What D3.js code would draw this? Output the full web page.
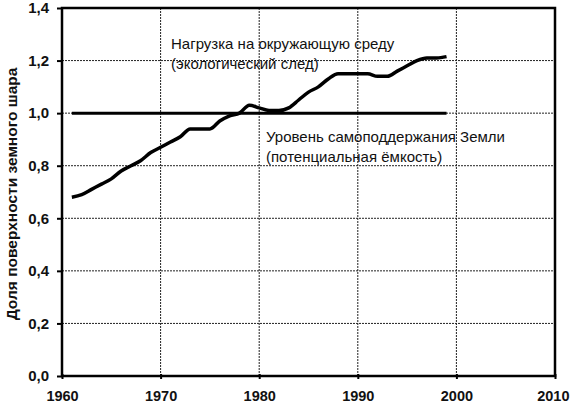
<!DOCTYPE html>
<html><head><meta charset="utf-8">
<script src="https://cdn.jsdelivr.net/npm/d3@7"></script>
<style>
body{margin:0;background:#fff;}
text{font-family:"Liberation Sans",Arial,Helvetica,sans-serif;}
</style>
</head><body>
<svg id="c" width="570" height="405"></svg>
<script>
const years = [1961,1962,1963,1964,1965,1966,1967,1968,1969,1970,1971,1972,1973,1974,1975,1976,1977,1978,1979,1980,1981,1982,1983,1984,1985,1986,1987,1988,1989,1990,1991,1992,1993,1994,1995,1996,1997,1998,1999];
const footprint = [0.68,0.69,0.71,0.73,0.75,0.78,0.80,0.82,0.85,0.87,0.89,0.91,0.94,0.94,0.94,0.97,0.99,1.00,1.03,1.02,1.01,1.01,1.02,1.05,1.08,1.10,1.13,1.15,1.15,1.15,1.15,1.14,1.14,1.16,1.18,1.20,1.21,1.21,1.215];
const capacityYears = [1961,1999];
const capacity = [1.0,1.0];
const xTicks = [1960,1970,1980,1990,2000,2010];
const yTicks = [0,0.2,0.4,0.6,0.8,1.0,1.2,1.4];
const yTitle = "Доля поверхности земного шара";
const label1 = ["Нагрузка на окружающую среду","(экологический след)"];
const label2 = ["Уровень самоподдержания Земли","(потенциальная ёмкость)"];

const svg = d3.select("#c");
const m = {l:62,r:15,t:8,b:29};
const W = 570, H = 405;
const x = d3.scaleLinear().domain([1960,2010]).range([m.l, W-m.r]);
const y = d3.scaleLinear().domain([0,1.4]).range([H-m.b, m.t]);

// grid
const g = svg.append("g");
g.selectAll(".gy").data(yTicks.filter(v=>v>0&&v<1.4)).enter().append("line")
  .attr("x1",x(1960)).attr("x2",x(2010)).attr("y1",d=>y(d)).attr("y2",d=>y(d))
  .attr("stroke","#222").attr("stroke-width",1).attr("stroke-dasharray","2,1");
g.selectAll(".gx").data(xTicks.filter(v=>v>1960&&v<2010)).enter().append("line")
  .attr("y1",y(0)).attr("y2",y(1.4)).attr("x1",d=>x(d)).attr("x2",d=>x(d))
  .attr("stroke","#222").attr("stroke-width",1).attr("stroke-dasharray","2,1");

// frame
svg.append("rect").attr("x",x(1960)).attr("y",y(1.4)).attr("width",x(2010)-x(1960)).attr("height",y(0)-y(1.4))
  .attr("fill","none").attr("stroke","#000").attr("stroke-width",2.5);

// axes
const yAxis = d3.axisLeft(y).tickValues(yTicks).tickSize(5).tickPadding(8)
  .tickFormat(d=>d3.format(".1f")(d).replace(".",","));
const ya = svg.append("g").attr("transform",`translate(${x(1960)},0)`).call(yAxis);
ya.select(".domain").remove();
ya.selectAll("line").attr("stroke","#000").attr("stroke-width",2);
ya.selectAll("text").attr("font-size",15).attr("font-weight","bold").attr("fill","#111");

const xAxis = d3.axisBottom(x).tickValues(xTicks).tickSize(5).tickPadding(10).tickFormat(d3.format("d"));
const xa = svg.append("g").attr("transform",`translate(0,${y(0)})`).call(xAxis);
xa.select(".domain").remove();
xa.selectAll("line").attr("stroke","#000").attr("stroke-width",2).attr("transform","translate(0,-2)");
xa.selectAll("text").attr("font-size",14.5).attr("font-weight","bold").attr("fill","#111")
  .attr("text-anchor",d=>d===2010?"end":"middle").attr("dx",d=>d===2010?"14":"0");

// y title
svg.append("text").attr("transform",`translate(17,${(y(0)+y(1.4))/2 + 2}) rotate(-90)`)
  .attr("text-anchor","middle").attr("font-size",15.5).attr("font-weight","bold").attr("fill","#111").text(yTitle);

// capacity line
const line = d3.line().x(d=>x(d[0])).y(d=>y(d[1]));
svg.append("path").datum(capacityYears.map((v,i)=>[v,capacity[i]]))
  .attr("d",line).attr("fill","none").attr("stroke","#000").attr("stroke-width",3);

// footprint
svg.append("path").datum(years.map((v,i)=>[v,footprint[i]]))
  .attr("d",d3.line().x(d=>x(d[0])).y(d=>y(d[1])).curve(d3.curveMonotoneX))
  .attr("fill","none").attr("stroke","#000").attr("stroke-width",3.5).attr("stroke-linejoin","round");

// labels
const lab = (arr,x0,y0)=>{
  const t = svg.append("text").attr("x",x0).attr("y",y0).attr("font-size",15).attr("fill","#111");
  arr.forEach((s,i)=>t.append("tspan").attr("x",x0).attr("dy",i?20:0).text(s));
};
lab(label1, 171, 49);
lab(label2, 266, 142);
</script>
</body></html>
